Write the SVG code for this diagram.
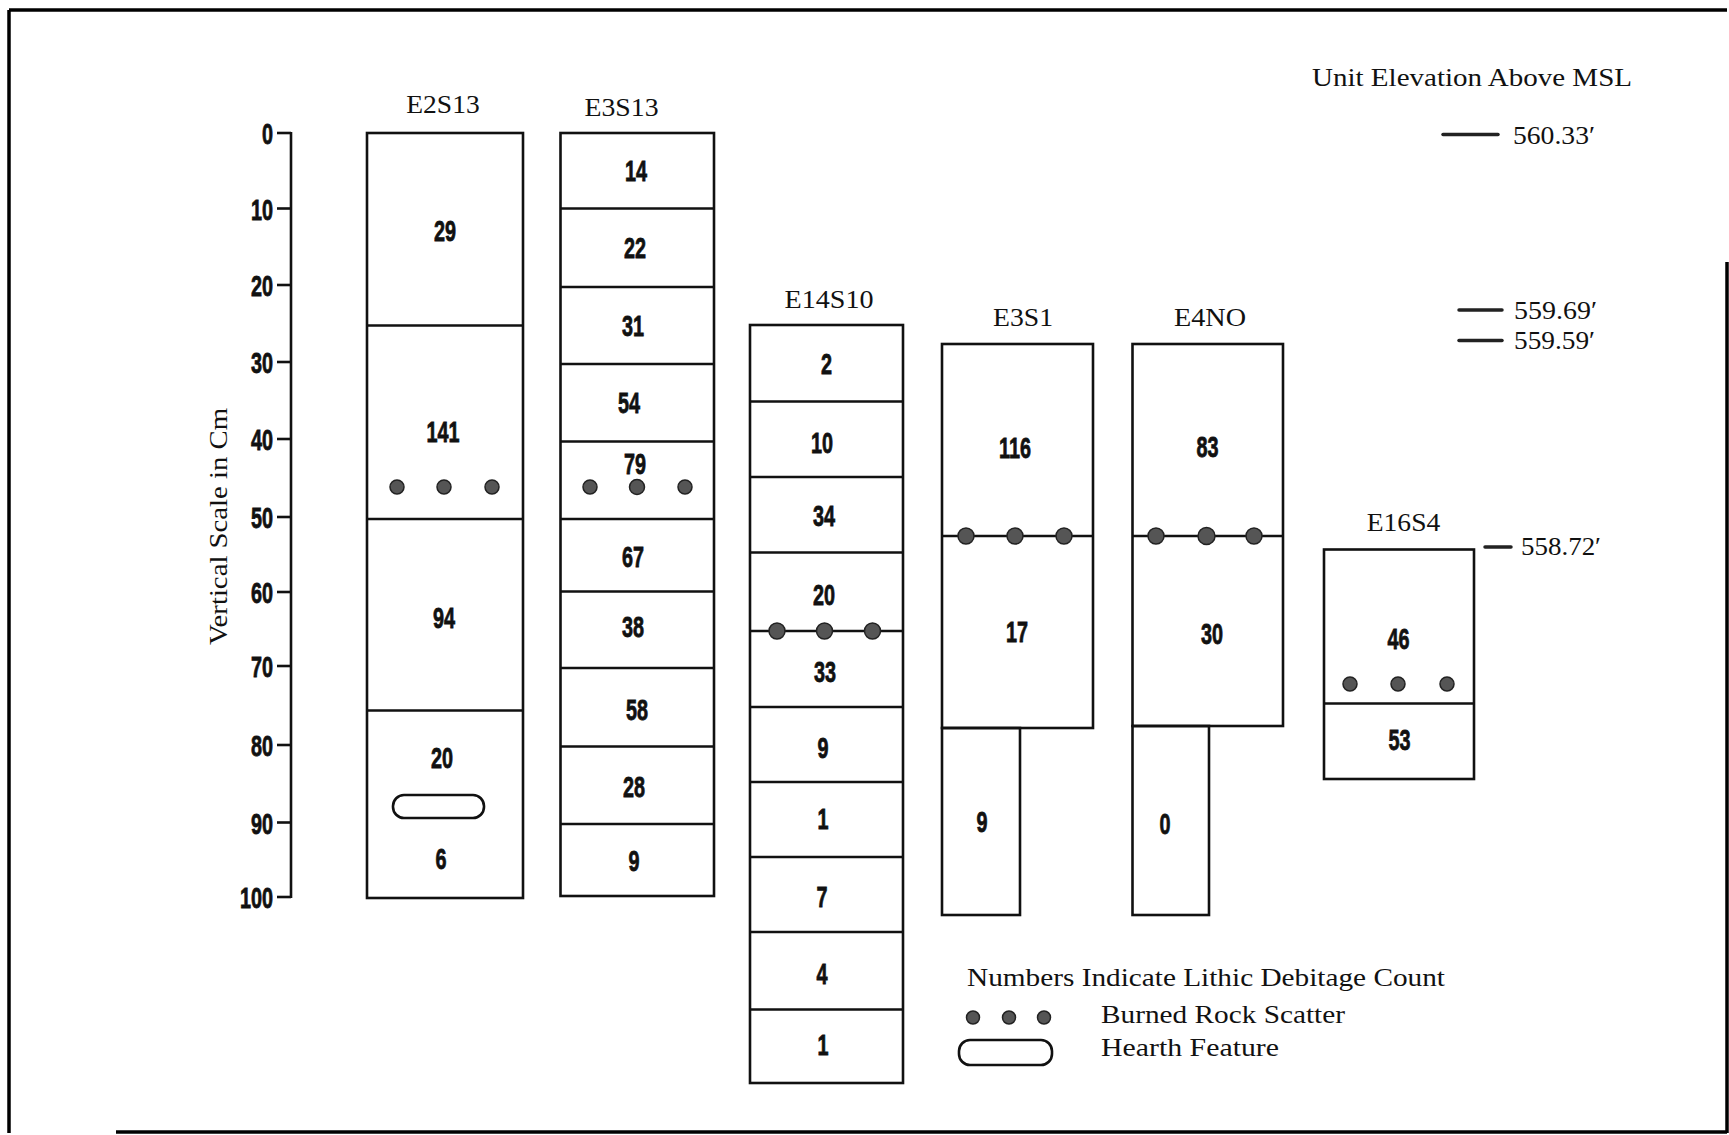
<svg xmlns="http://www.w3.org/2000/svg" width="1729" height="1135" viewBox="0 0 1729 1135">
<style>
.frame{stroke:#000;stroke-width:3.5;fill:none}
.box{fill:none;stroke:#111;stroke-width:2.6}
.ln{stroke:#111;stroke-width:2.6}
.tick{stroke:#111;stroke-width:2.6}
.elev{stroke:#222;stroke-width:3.5;stroke-linecap:round}
.dot{fill:#555;stroke:#222;stroke-width:1.5}
.n{font-family:"Liberation Sans",Arial,sans-serif;font-weight:bold;font-size:30px;fill:#111;stroke:#111;stroke-width:0.8;text-anchor:middle}
.t{font-family:"Liberation Serif","Times New Roman",serif;font-size:26px;fill:#111}
.tc{text-anchor:middle}
</style>
<rect x="0" y="0" width="1729" height="1135" fill="#fff"/>
<g id="frame">
<line class="frame" x1="9" y1="10" x2="1727" y2="10"/>
<line class="frame" x1="9" y1="10" x2="9" y2="1133"/>
<line class="frame" x1="1727" y1="262" x2="1727" y2="1133"/>
<line class="frame" x1="116" y1="1132" x2="1727" y2="1132"/>
</g>
<g id="scale">
<line class="tick" x1="291" y1="132" x2="291" y2="898"/>
<line class="tick" x1="277" y1="133" x2="291" y2="133"/>
<line class="tick" x1="277" y1="208.5" x2="291" y2="208.5"/>
<line class="tick" x1="277" y1="285" x2="291" y2="285"/>
<line class="tick" x1="277" y1="362" x2="291" y2="362"/>
<line class="tick" x1="277" y1="439" x2="291" y2="439"/>
<line class="tick" x1="277" y1="517" x2="291" y2="517"/>
<line class="tick" x1="277" y1="592" x2="291" y2="592"/>
<line class="tick" x1="277" y1="666" x2="291" y2="666"/>
<line class="tick" x1="277" y1="745" x2="291" y2="745"/>
<line class="tick" x1="277" y1="822.5" x2="291" y2="822.5"/>
<line class="tick" x1="277" y1="897" x2="291" y2="897"/>
<g class="n" style="text-anchor:end">
<text transform="translate(273,144) scale(0.66,1)">0</text>
<text transform="translate(273,219.5) scale(0.66,1)">10</text>
<text transform="translate(273,296) scale(0.66,1)">20</text>
<text transform="translate(273,373) scale(0.66,1)">30</text>
<text transform="translate(273,450) scale(0.66,1)">40</text>
<text transform="translate(273,528) scale(0.66,1)">50</text>
<text transform="translate(273,603) scale(0.66,1)">60</text>
<text transform="translate(273,677) scale(0.66,1)">70</text>
<text transform="translate(273,756) scale(0.66,1)">80</text>
<text transform="translate(273,833.5) scale(0.66,1)">90</text>
<text transform="translate(273,908) scale(0.66,1)">100</text>
</g>
<text class="t tc" font-size="27" textLength="237" lengthAdjust="spacingAndGlyphs" transform="translate(227,526.5) rotate(-90)">Vertical Scale in Cm</text>
</g>
<g id="E2S13">
<text class="t tc" x="443" y="113" textLength="73.5" lengthAdjust="spacingAndGlyphs">E2S13</text>
<rect class="box" x="367" y="133" width="156" height="765"/>
<line class="ln" x1="367" y1="325.5" x2="523" y2="325.5"/>
<line class="ln" x1="367" y1="519" x2="523" y2="519"/>
<line class="ln" x1="367" y1="710.5" x2="523" y2="710.5"/>
<text class="n" transform="translate(445,241) scale(0.66,1)">29</text>
<text class="n" transform="translate(443,442) scale(0.66,1)">141</text>
<circle class="dot" cx="397" cy="487" r="7"/><circle class="dot" cx="444" cy="487" r="7"/><circle class="dot" cx="492" cy="487" r="7"/>
<text class="n" transform="translate(444,627.5) scale(0.66,1)">94</text>
<text class="n" transform="translate(442,767.5) scale(0.66,1)">20</text>
<rect class="box" x="393" y="795" width="91" height="23" rx="11"/>
<text class="n" transform="translate(441,869) scale(0.66,1)">6</text>
</g>
<g id="E3S13">
<text class="t tc" x="621.5" y="116" textLength="74" lengthAdjust="spacingAndGlyphs">E3S13</text>
<rect class="box" x="560.5" y="133" width="153.5" height="763"/>
<line class="ln" x1="560.5" y1="208.5" x2="714" y2="208.5"/>
<line class="ln" x1="560.5" y1="287" x2="714" y2="287"/>
<line class="ln" x1="560.5" y1="364" x2="714" y2="364"/>
<line class="ln" x1="560.5" y1="441.5" x2="714" y2="441.5"/>
<line class="ln" x1="560.5" y1="519" x2="714" y2="519"/>
<line class="ln" x1="560.5" y1="591.5" x2="714" y2="591.5"/>
<line class="ln" x1="560.5" y1="668" x2="714" y2="668"/>
<line class="ln" x1="560.5" y1="746.5" x2="714" y2="746.5"/>
<line class="ln" x1="560.5" y1="824" x2="714" y2="824"/>
<text class="n" transform="translate(636,181) scale(0.66,1)">14</text>
<text class="n" transform="translate(635,258) scale(0.66,1)">22</text>
<text class="n" transform="translate(633,336) scale(0.66,1)">31</text>
<text class="n" transform="translate(629,412.5) scale(0.66,1)">54</text>
<text class="n" transform="translate(635,474) scale(0.66,1)">79</text>
<circle class="dot" cx="590" cy="487" r="7"/><circle class="dot" cx="637" cy="487" r="7.5"/><circle class="dot" cx="685" cy="487" r="7"/>
<text class="n" transform="translate(633,566.5) scale(0.66,1)">67</text>
<text class="n" transform="translate(633,637) scale(0.66,1)">38</text>
<text class="n" transform="translate(637,720) scale(0.66,1)">58</text>
<text class="n" transform="translate(634,797) scale(0.66,1)">28</text>
<text class="n" transform="translate(634,870.5) scale(0.66,1)">9</text>
</g>
<g id="E14S10">
<text class="t tc" x="829" y="308" textLength="89" lengthAdjust="spacingAndGlyphs">E14S10</text>
<rect class="box" x="750" y="325" width="153" height="758"/>
<line class="ln" x1="750" y1="401.5" x2="903" y2="401.5"/>
<line class="ln" x1="750" y1="477" x2="903" y2="477"/>
<line class="ln" x1="750" y1="552.5" x2="903" y2="552.5"/>
<line class="ln" x1="750" y1="631" x2="903" y2="631"/>
<line class="ln" x1="750" y1="707" x2="903" y2="707"/>
<line class="ln" x1="750" y1="782" x2="903" y2="782"/>
<line class="ln" x1="750" y1="857" x2="903" y2="857"/>
<line class="ln" x1="750" y1="932" x2="903" y2="932"/>
<line class="ln" x1="750" y1="1009.5" x2="903" y2="1009.5"/>
<text class="n" transform="translate(826.5,374) scale(0.66,1)">2</text>
<text class="n" transform="translate(822,452.5) scale(0.66,1)">10</text>
<text class="n" transform="translate(824,526) scale(0.66,1)">34</text>
<text class="n" transform="translate(824,604.5) scale(0.66,1)">20</text>
<circle class="dot" cx="777" cy="631" r="8"/><circle class="dot" cx="824.5" cy="631" r="8"/><circle class="dot" cx="872.5" cy="631" r="8"/>
<text class="n" transform="translate(825,682) scale(0.66,1)">33</text>
<text class="n" transform="translate(823,758) scale(0.66,1)">9</text>
<text class="n" transform="translate(823,829) scale(0.66,1)">1</text>
<text class="n" transform="translate(822,907) scale(0.66,1)">7</text>
<text class="n" transform="translate(822,983.5) scale(0.66,1)">4</text>
<text class="n" transform="translate(823,1054.5) scale(0.66,1)">1</text>
</g>
<g id="E3S1">
<text class="t tc" x="1023" y="325.5" textLength="60" lengthAdjust="spacingAndGlyphs">E3S1</text>
<rect class="box" x="942" y="344" width="151" height="384"/>
<rect class="box" x="942" y="728" width="78" height="187"/>
<line class="ln" x1="942" y1="536" x2="1093" y2="536"/>
<text class="n" transform="translate(1015,457.5) scale(0.66,1)">116</text>
<circle class="dot" cx="966" cy="536" r="8"/><circle class="dot" cx="1015" cy="536" r="8"/><circle class="dot" cx="1064" cy="536" r="8"/>
<text class="n" transform="translate(1017,641.5) scale(0.66,1)">17</text>
<text class="n" transform="translate(982,832) scale(0.66,1)">9</text>
</g>
<g id="E4NO">
<text class="t tc" x="1210" y="325.5" textLength="72" lengthAdjust="spacingAndGlyphs">E4NO</text>
<rect class="box" x="1132.5" y="344" width="150.5" height="382"/>
<rect class="box" x="1132.5" y="726" width="76.5" height="189"/>
<line class="ln" x1="1132.5" y1="536" x2="1283" y2="536"/>
<text class="n" transform="translate(1207.5,457) scale(0.66,1)">83</text>
<circle class="dot" cx="1156" cy="536" r="8"/><circle class="dot" cx="1206.5" cy="536" r="8.5"/><circle class="dot" cx="1254" cy="536" r="8"/>
<text class="n" transform="translate(1212,643.5) scale(0.66,1)">30</text>
<text class="n" transform="translate(1165,834) scale(0.66,1)">0</text>
</g>
<g id="E16S4">
<text class="t tc" x="1403.5" y="530.5" textLength="73.5" lengthAdjust="spacingAndGlyphs">E16S4</text>
<rect class="box" x="1324" y="549.5" width="150" height="229.5"/>
<line class="ln" x1="1324" y1="703.5" x2="1474" y2="703.5"/>
<text class="n" transform="translate(1398.5,648.5) scale(0.66,1)">46</text>
<circle class="dot" cx="1350" cy="684" r="7"/><circle class="dot" cx="1398" cy="684" r="7"/><circle class="dot" cx="1447" cy="684" r="7"/>
<text class="n" transform="translate(1399.5,750) scale(0.66,1)">53</text>
</g>
<g id="elevations">
<text class="t" x="1312" y="86" font-size="27" textLength="320" lengthAdjust="spacingAndGlyphs">Unit Elevation Above MSL</text>
<line class="elev" x1="1443" y1="134.5" x2="1498" y2="134.5"/>
<text class="t" x="1513" y="143.5" font-size="27" textLength="82" lengthAdjust="spacingAndGlyphs">560.33′</text>
<line class="elev" x1="1459" y1="310" x2="1502" y2="310"/>
<text class="t" x="1514" y="319" font-size="27" textLength="83" lengthAdjust="spacingAndGlyphs">559.69′</text>
<line class="elev" x1="1459" y1="340.5" x2="1502" y2="340.5"/>
<text class="t" x="1514" y="349" font-size="27" textLength="81" lengthAdjust="spacingAndGlyphs">559.59′</text>
<line class="elev" x1="1485" y1="547" x2="1511" y2="547"/>
<text class="t" x="1521" y="555" font-size="27" textLength="80" lengthAdjust="spacingAndGlyphs">558.72′</text>
</g>
<g id="legend">
<text class="t" x="967" y="986" textLength="478" lengthAdjust="spacingAndGlyphs">Numbers Indicate Lithic Debitage Count</text>
<circle class="dot" cx="973" cy="1017.5" r="6.5"/><circle class="dot" cx="1009" cy="1017.5" r="6.5"/><circle class="dot" cx="1044" cy="1017.5" r="6.5"/>
<text class="t" x="1101" y="1023" textLength="244" lengthAdjust="spacingAndGlyphs">Burned Rock Scatter</text>
<rect class="box" x="959" y="1040" width="93" height="25" rx="11"/>
<text class="t" x="1101" y="1056" textLength="178" lengthAdjust="spacingAndGlyphs">Hearth Feature</text>
</g>
</svg>
